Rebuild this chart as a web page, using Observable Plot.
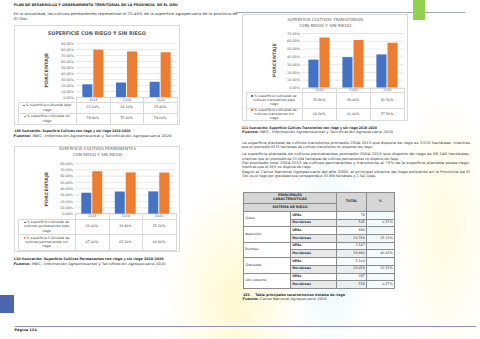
<!DOCTYPE html>
<html>
<head>
<meta charset="utf-8">
<script src="https://cdn.jsdelivr.net/npm/d3@7"></script>
<script src="https://cdn.jsdelivr.net/npm/@observablehq/plot@0.6"></script>
<style>
body{margin:0;background:#fff;}
#page{position:relative;width:480px;height:339px;overflow:hidden;font-family:"DejaVu Sans",sans-serif;color:#333;background:#fff;}
.abs{position:absolute;white-space:nowrap;}
.line{position:absolute;background:#d9d9d9;}
.box{position:absolute;border:0.6px solid #d9d9d9;box-sizing:border-box;background:#fff;}
.cell{position:absolute;display:flex;align-items:center;justify-content:center;text-align:center;font-size:3.3px;line-height:4.1px;color:#404040;white-space:normal;}
.key{display:inline-block;width:1.8px;height:1.8px;margin-right:0.8px;vertical-align:middle;}
svg{position:absolute;overflow:visible;background:transparent;}
table.rt{position:absolute;border-collapse:collapse;table-layout:fixed;font-size:3.3px;line-height:3.6px;color:#333;}
table.rt td{border:0.6px solid #8c8c8c;padding:0 1.2px;height:7.7px;box-sizing:border-box;}
</style>
</head>
<body>
<div id="page">
  <div class="abs" style="left:0;top:0;width:480px;height:339px;background:
    radial-gradient(ellipse 70px 120px at 235px 300px, rgba(255,242,160,0.5), rgba(255,255,255,0) 100%),
    radial-gradient(ellipse 40px 110px at 330px 250px, rgba(190,235,248,0.4), rgba(255,255,255,0) 100%),
    radial-gradient(ellipse 50px 140px at 445px 230px, rgba(255,244,175,0.4), rgba(255,255,255,0) 100%);"></div>
</div>
<script>
// ---------- DATA ----------
const years = ["2018", "2019", "2020"];
const seriesKeys = ["bajo riego", "sin riego"];

const c1Bajo = [21.10, 24.10, 25.40];
const c1Sin  = [78.90, 75.90, 74.60];
const c1Ticks = [0, 10, 20, 30, 40, 50, 60, 70, 80, 90];

const c2Bajo = [35.80, 39.00, 42.50];
const c2Sin  = [64.20, 61.00, 57.50];
const c2Ticks = [0, 10, 20, 30, 40, 50, 60, 70];

const c3Bajo = [33.00, 34.90, 35.10];
const c3Sin  = [67.00, 65.10, 64.90];
const c3Ticks = [0, 10, 20, 30, 40, 50, 60, 70, 80];

const sistemas  = ["Goteo", "Aspersión", "Bombeo", "Gravedad", "Otro sistema"];
const upas      = ["79", "886", "2.547", "5.104", "387"];
const hectareas = ["545", "24.789", "39.880", "33.059", "558"];
const porcentaje = ["0.55%", "25.13%", "40.43%", "33.52%", "0.57%"];

const colors = ["#4472c4", "#ed7d31"];
// ---------- HELPERS ----------
const page = document.getElementById("page");
function T({x, y, w, fs, html, weight = "normal", color = "#333", anchor = "left", rotate = false}) {
  const el = document.createElement("div");
  el.className = "abs";
  el.innerHTML = html;
  el.style.fontSize = fs + "px";
  el.style.lineHeight = fs + "px";
  el.style.fontWeight = weight;
  el.style.color = color;
  page.appendChild(el);
  const nw = el.getBoundingClientRect().width;
  const cx = anchor === "center" ? x : x + w / 2;
  el.style.left = (cx - nw / 2) + "px";
  el.style.top = (y - fs / 2) + "px";
  el.style.transformOrigin = "50% 50%";
  el.style.transform = (rotate ? "rotate(-90deg) " : "") + `scaleX(${w / nw})`;
  return el;
}
function L(x, y, w, h, color = "#d9d9d9") {
  const d = document.createElement("div");
  d.className = "line";
  Object.assign(d.style, {left: x + "px", top: y + "px", width: w + "px", height: h + "px", background: color});
  page.appendChild(d);
}
function R(x, y, w, h, color) {
  const d = document.createElement("div");
  d.className = "abs";
  Object.assign(d.style, {left: x + "px", top: y + "px", width: w + "px", height: h + "px", background: color});
  page.appendChild(d);
}
const fmtPct = v => d3.format(".2f")(v) + "%";

function chart(cfg) {
  const {box, titles, x0, x1, yTop, yBot, ticks, bajo, sin, ylab, rows, legends} = cfg;
  const b = document.createElement("div");
  b.className = "box";
  Object.assign(b.style, {left: box.l + "px", top: box.t + "px", width: (box.r - box.l) + "px", height: (box.b - box.t) + "px"});
  page.appendChild(b);
  titles.forEach(t => T({...t, anchor: "center", color: "#595959", weight: t.weight || "normal"}));
  T({x: ylab.x, y: ylab.cy, w: ylab.len, fs: 4.6, html: "PORCENTAJE", weight: "bold", color: "#595959", anchor: "center", rotate: true});

  const data = years.flatMap((yr, i) => [
    {year: yr, series: seriesKeys[0], value: bajo[i]},
    {year: yr, series: seriesKeys[1], value: sin[i]}
  ]);
  const mt = 4, mb = 6;
  const svgTop = yTop - mt;
  const W = box.r - box.l, H = (yBot + mb) - svgTop;
  const plot = Plot.plot({
    width: W, height: H,
    marginLeft: x0 - box.l, marginRight: box.r - x1, marginTop: mt, marginBottom: mb,
    style: {background: "transparent", fontFamily: "DejaVu Sans, sans-serif", color: "#595959"},
    fx: {domain: years, padding: 0, round: false, label: null},
    x: {domain: seriesKeys, paddingInner: 0.09, paddingOuter: 0.575, round: false, axis: null},
    y: {domain: [0, ticks[ticks.length - 1]], label: null},
    color: {domain: seriesKeys, range: colors},
    marks: [
      Plot.gridY(ticks, {stroke: "#d9d9d9", strokeOpacity: 1, strokeWidth: 0.6}),
      Plot.axisY(ticks, {tickSize: 0, tickPadding: 2.5, fontSize: 3.4, fill: "#595959", label: null,
        tickFormat: d => d3.format(".2%")(d / 100)}),
      Plot.axisFx({anchor: "bottom", tickSize: 0, tickPadding: 0.9, fontSize: 3.3, fill: "#595959", label: null}),
      Plot.barY(data, {fx: "year", x: "series", y: "value", fill: "series"})
    ]
  });
  plot.style.left = box.l + "px";
  plot.style.top = svgTop + "px";
  plot.style.maxWidth = "none";
  plot.style.height = H + "px";
  plot.style.width = W + "px";

  // data table under the plot
  const bw = (x1 - x0) / years.length;
  const lc = "#d9d9d9", th = 0.6;
  const [yr0] = rows.year, [r1a, r1b] = rows.r1, [r2a, r2b] = rows.r2;
  const legL = box.l + 4;
  L(x0, yr0, x1 - x0, th, lc);
  L(legL, r1a, x1 - legL, th, lc);
  L(legL, r2a, x1 - legL, th, lc);
  L(legL, r2b, x1 - legL, th, lc);
  for (let i = 0; i <= years.length; i++) L(x0 + i * bw, yr0, th, r2b - yr0, lc);
  L(legL, r1a, th, r2b - r1a, lc);
  [[r1a, r1b, bajo, 0], [r2a, r2b, sin, 1]].forEach(([a, bb, vals, k]) => {
    const lg = document.createElement("div");
    lg.className = "cell";
    Object.assign(lg.style, {left: (legL + 4) + "px", top: a + "px", width: (x0 - legL - 8) + "px", height: (bb - a) + "px", fontSize: "3.4px"});
    lg.innerHTML = `<span><span class="key" style="background:${colors[k]}"></span>${legends[k]}</span>`;
    page.appendChild(lg);
    vals.forEach((v, i) => {
      const c = document.createElement("div");
      c.className = "cell";
      Object.assign(c.style, {left: (x0 + i * bw) + "px", top: a + "px", width: bw + "px", height: (bb - a) + "px"});
      c.textContent = fmtPct(v);
      page.appendChild(c);
    });
  });
  page.appendChild(plot);
}

// ---------- PAGE TEXT ----------
T({x: 14, y: 5.5, w: 164, fs: 3.5, html: "PLAN DE DESARROLLO Y ORDENAMIENTO TERRITORIAL DE LA PROVINCIA &nbsp;DE EL ORO", weight: "bold", color: "#1f1f1f"});
L(236, 12, 229, 0.7, "#a3a7b6");
R(413, 0, 12, 20, "#92d050");
T({x: 14, y: 15, w: 224, fs: 3.6, html: "En la actualidad, los cultivos permanentes representan el 25.45% de la superficie agropecuaria de la provincia de"});
T({x: 14, y: 20, w: 14, fs: 3.6, html: "El Oro."});

// ---------- CHARTS ----------
chart({
  box: {l: 14, t: 25, r: 180, b: 125},
  titles: [{x: 97, y: 34, w: 98, fs: 5.2, html: "SUPERFICIE CON RIEGO Y SIN RIEGO", weight: "bold"}],
  x0: 76, x1: 177, yTop: 42.7, yBot: 96.7, ticks: c1Ticks, bajo: c1Bajo, sin: c1Sin,
  ylab: {x: 47, cy: 70.5, len: 35},
  rows: {year: [96.7, 102], r1: [102, 113], r2: [113, 124]},
  legends: ["% superficie cultivada bajo riego", "% superficie cultivada sin riego"]
});
chart({
  box: {l: 242, t: 14, r: 408, b: 121},
  titles: [{x: 325, y: 20, w: 76, fs: 4.2, html: "SUPERFICIE CULTIVOS TRANSITORIOS"},
           {x: 325, y: 26, w: 52, fs: 4.2, html: "CON RIEGO Y SIN RIEGO"}],
  x0: 302, x1: 404, yTop: 33.3, yBot: 87.8, ticks: c2Ticks, bajo: c2Bajo, sin: c2Sin,
  ylab: {x: 275, cy: 60, len: 34},
  rows: {year: [87.8, 92], r1: [92, 108], r2: [108, 120]},
  legends: ["% superficie cultivada de cultivos transitorios bajo riego", "% superficie cultivada de cultivos transitorios sin riego"]
});
chart({
  box: {l: 14, t: 145.5, r: 180, b: 251.7},
  titles: [{x: 97.5, y: 149.5, w: 77, fs: 4.2, html: "SUPERFICIE CULTIVOS PERMANENTES"},
           {x: 97.5, y: 155.5, w: 49, fs: 4.2, html: "CON RIEGO Y SIN RIEGO"}],
  x0: 75, x1: 175.5, yTop: 162.7, yBot: 213.3, ticks: c3Ticks, bajo: c3Bajo, sin: c3Sin,
  ylab: {x: 47, cy: 189.5, len: 35},
  rows: {year: [213.3, 219], r1: [219, 234], r2: [234, 250]},
  legends: ["% superficie cultivada de cultivos permanentes bajo riego", "% superficie Cultivada de cultivos permanentes sin riego"]
});

// captions left
T({x: 14, y: 132, w: 116, fs: 3.4, html: "109 Ilustración: Superficie Cultivos con riego y sin riego 2018-2020", weight: "bold", color: "#1f1f1f"});
T({x: 14, y: 137, w: 158, fs: 3.4, html: "<b>Fuente:</b> INEC, Información Agroambiental y Tecnificación Agropecuaria 2020"});
T({x: 14, y: 260, w: 150, fs: 3.4, html: "110 Ilustración: Superficie Cultivos Permanentes con riego y sin riego 2018-2020", weight: "bold", color: "#1f1f1f"});
T({x: 14, y: 264.5, w: 152, fs: 3.4, html: "<b>Fuente:</b> INEC, Información Agroambiental y Tecnificación Agropecuaria 2020"});

// captions right + paragraphs
T({x: 242, y: 128.5, w: 135, fs: 3.4, html: "111 Ilustración: Superficie Cultivos Transitorios con riego y sin riego 2018-2020", weight: "bold", color: "#1f1f1f"});
T({x: 242, y: 133, w: 151, fs: 3.4, html: "<b>Fuente:</b> INEC, Información Agroambiental y Tecnificación Agropecuaria 2020"});
const para = [
  [143.3, 228, "La superficie plantada de cultivos transitorios promedio 2004-2013 que dispone de riego es 3.015 hectáreas, mientras"],
  [147.7, 131, "que en promedio 6375 hectáreas de cultivos transitorios no disponen de riego."],
  [155, 228, "La superficie plantada de cultivos permanentes promedio 2004-2015 que dispone de riego es 68.140 hectáreas,"],
  [159.4, 157, "mientras que en promedio de 23.094 hectáreas de cultivos permanentes no dispone de riego."],
  [163.8, 228, "Del promedio total 2004-2013 de cultivos permanentes y transitorios el 75% de la superficie plantada posee riego,"],
  [168.2, 70, "mientras que el 29% no dispone de riego."],
  [172.6, 228, "Según el Censo Nacional Agropecuario del año 2000, el principal sistema de riego existente en la Provincia de El"],
  [177, 134, "Oro, es el riego por gravedad que corresponde a 33.059 hectáreas y 2.341 Upas."]
];
para.forEach(([y, w, t]) => T({x: 242, y, w, fs: 3.5, html: t, color: "#3a3a3a"}));

// right table
(function () {
  const tb = document.createElement("table");
  tb.className = "rt";
  Object.assign(tb.style, {left: "243px", top: "192px", width: "151px"});
  let h = `<colgroup><col style="width:47px"><col style="width:46px"><col style="width:30px"><col style="width:28px"></colgroup>`;
  h += `<tr><td colspan="2" style="height:11px;background:#d6d6d6;text-align:center;font-weight:bold">PRINCIPALES<br>CARACTERISTICAS</td>
        <td rowspan="2" style="background:#d6d6d6;text-align:center;font-weight:bold">TOTAL</td>
        <td rowspan="2" style="background:#d6d6d6;text-align:center;font-weight:bold">%</td></tr>`;
  h += `<tr><td colspan="2" style="height:8px;background:#d6d6d6;text-align:center;font-weight:bold">SISTEMA DE RIEGO</td></tr>`;
  sistemas.forEach((s, i) => {
    h += `<tr><td rowspan="2" style="background:#fff">${s}</td><td style="font-weight:bold;background:#fff">UPAs</td>
          <td style="text-align:right;background:#f7fbfc">${upas[i]}</td><td style="background:#f3fafc"></td></tr>`;
    h += `<tr><td style="font-weight:bold;background:#e9e9e9">Hectáreas</td>
          <td style="text-align:right;background:#e9eef0">${hectareas[i]}</td><td style="text-align:right;background:#f3fafc">${porcentaje[i]}</td></tr>`;
  });
  tb.innerHTML = h;
  page.appendChild(tb);
})();
T({x: 243, y: 295.5, w: 102, fs: 3.4, html: "153. &nbsp;&nbsp;&nbsp;Tabla principales características sistema de riego", weight: "bold", color: "#1f1f1f"});
T({x: 243, y: 299.5, w: 84, fs: 3.4, html: "<b>Fuente:</b> Censo Nacional Agropecuario 2010"});

// footer
R(0, 295, 14, 18, "#4a66ac");
L(15, 325.5, 461, 0.7, "#8a93b5");
T({x: 15, y: 330.5, w: 22, fs: 3.4, html: "Página 124", weight: "bold", color: "#1f1f1f"});
</script>
</body>
</html>
